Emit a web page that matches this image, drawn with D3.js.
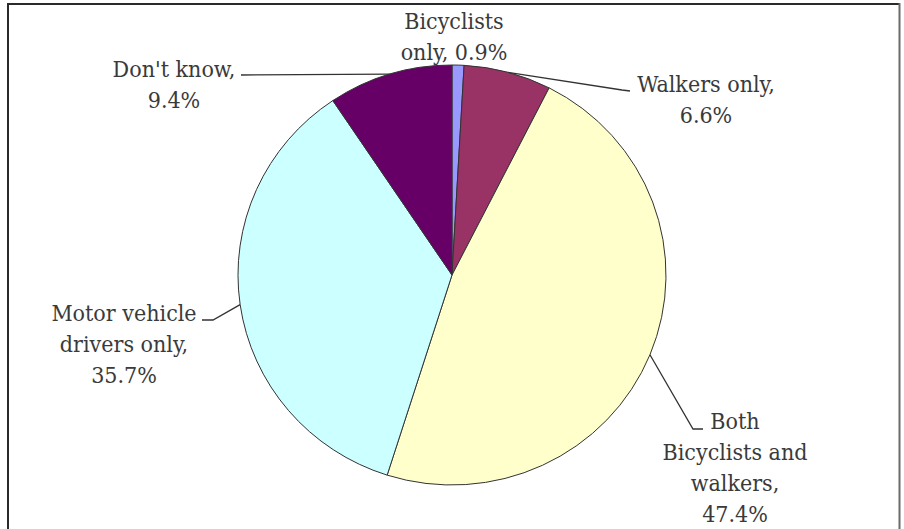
<!DOCTYPE html>
<html>
<head>
<meta charset="utf-8">
<script src="https://cdn.jsdelivr.net/npm/d3@7"></script>
<style>
  html, body { margin: 0; padding: 0; background: #fff; }
  svg { display: block; }
</style>
</head>
<body>
<svg id="chart" width="904" height="529"></svg>
<script>
// ---- data ----
const categories = ["Bicyclists only", "Walkers only", "Both Bicyclists and walkers", "Motor vehicle drivers only", "Don't know"];
const values = [0.9, 6.6, 47.4, 35.7, 9.4];
const colors = ["#9999FF", "#993366", "#FFFFCC", "#CCFFFF", "#660066"];
const labelLines = [
  ["Bicyclists", "only, 0.9%"],
  ["Walkers only,", "6.6%"],
  ["Both", "Bicyclists and", "walkers,", "47.4%"],
  ["Motor vehicle", "drivers only,", "35.7%"],
  ["Don't know,", "9.4%"]
];

// ---- layout ----
const W = 904, H = 529;
const cx = 452, cy = 275, rx = 214, ry = 210;
const lineH = 31;
const FONT = "'DejaVu Serif Condensed', 'DejaVu Serif', serif";
const labelLayout = [
  { x: 454, y: 29, leader: null },
  { x: 706, y: 92, leader: [[622, 90], [630, 91]] },
  { x: 735, y: 429, leader: [[693, 429], [703, 429]] },
  { x: 124, y: 321, leader: [[213, 320], [202, 320]] },
  { x: 174, y: 77, leader: [[241, 75]] }
];

const svg = d3.select("#chart");

svg.append("line").attr("x1", 8).attr("y1", 4).attr("x2", 900).attr("y2", 4).attr("stroke", "#2a2a2a").attr("stroke-width", 2);
svg.append("line").attr("x1", 8).attr("y1", 3).attr("x2", 8).attr("y2", H).attr("stroke", "#2a2a2a").attr("stroke-width", 2);
svg.append("line").attr("x1", 899.5).attr("y1", 3).attr("x2", 899.5).attr("y2", H).attr("stroke", "#6a6a6a").attr("stroke-width", 2);

const pie = d3.pie().sort(null).value(d => d)(values);
const arc = d3.arc().innerRadius(0).outerRadius(ry);

const g = svg.append("g")
  .attr("transform", `translate(${cx},${cy}) scale(${rx / ry},1)`);

g.selectAll("path")
  .data(pie)
  .join("path")
  .attr("d", arc)
  .attr("fill", (d, i) => colors[i])
  .attr("stroke", "#333")
  .attr("stroke-width", 1)
  .attr("vector-effect", "non-scaling-stroke");

function edgePoint(d) {
  const a = (d.startAngle + d.endAngle) / 2;
  return [cx + rx * Math.sin(a), cy - ry * Math.cos(a)];
}
pie.forEach((d, i) => {
  const L = labelLayout[i];
  if (!L.leader) return;
  const pts = [edgePoint(d)].concat(L.leader);
  svg.append("path")
    .attr("d", d3.line()(pts))
    .attr("fill", "none")
    .attr("stroke", "#333")
    .attr("stroke-width", 1.3);
});

labelLines.forEach((lines, i) => {
  const L = labelLayout[i];
  const t = svg.append("text")
    .attr("text-anchor", "middle")
    .attr("font-family", FONT)
    .attr("font-stretch", "condensed")
    .attr("font-size", 23)
    .attr("fill", "#3a3a3a");
  lines.forEach((s, j) => {
    t.append("tspan").attr("x", L.x).attr("y", L.y + j * lineH).text(s);
  });
});
</script>
</body>
</html>
